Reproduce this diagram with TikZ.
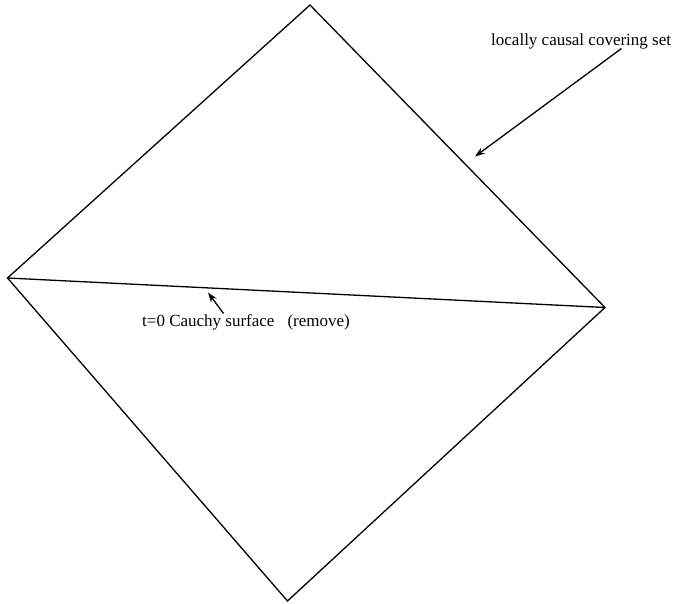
\documentclass[tikz,border=0pt]{standalone}
\usepackage{fontspec}
\setmainfont{Liberation Serif}
\usetikzlibrary{arrows.meta}
\begin{document}
\begin{tikzpicture}[x=1pt,y=-1pt,
  edge/.style={line width=1.3pt, line join=miter},
  pointer/.style={line width=1.3pt, -{Stealth[length=10pt,width=7pt]}},
  lbl/.style={font=\fontsize{17}{19}\selectfont, inner sep=0pt}]
\useasboundingbox (0,0) rectangle (678,603);
\coordinate (T) at (310,5);
\coordinate (L) at (7.5,278);
\coordinate (R) at (605,307.5);
\coordinate (B) at (287.5,601);
\draw[edge] (T) -- (R) -- (B) -- (L) -- cycle;
\draw[edge] (L) -- (R);
\node[lbl, anchor=base west] (lab1) at (491,45.5) {locally causal covering set};
\coordinate (a1s) at (621.5,48.5);
\coordinate (a1e) at (475,156.5);
\draw[pointer] (a1s) -- (a1e);
\node[lbl, anchor=base west] (lab2) at (142,326) {t=0 Cauchy surface\hspace{13pt}(remove)};
\coordinate (a2s) at (223.5,313.5);
\coordinate (a2e) at (208,292.5);
\draw[pointer] (a2s) -- (a2e);
\end{tikzpicture}
\end{document}
